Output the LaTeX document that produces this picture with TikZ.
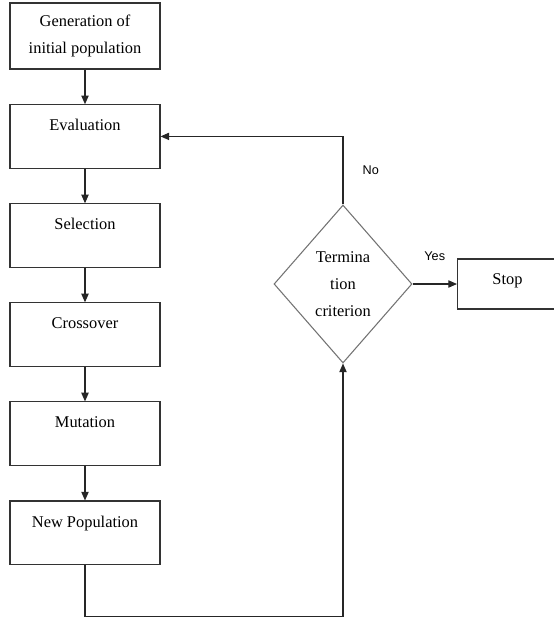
\documentclass[tikz,border=0pt]{standalone}
\usepackage{fontspec}
\setmainfont{Liberation Serif}
\newfontfamily\labelfont{Liberation Sans}
\usetikzlibrary{shapes.geometric, arrows.meta, positioning}

\begin{document}
\begin{tikzpicture}[
  x = 0.75pt, y = -0.75pt,
  node distance = 26pt,
  every node/.style = {font=\fontsize{12.3}{20}\selectfont},
  startbox/.style = {rectangle, draw=black!80, line width=0.8pt,
                     minimum width=112.5pt, minimum height=49.5pt,
                     inner sep=0pt, align=center},
  stepbox/.style  = {rectangle, draw=black!80, line width=0.8pt,
                     minimum width=112.5pt, inner sep=0pt,
                     text height=19.5pt, text depth=28pt},
  stopbox/.style  = {rectangle, draw=black!80, line width=0.8pt,
                     minimum width=75pt, inner sep=0pt,
                     text height=18.75pt, text depth=18.75pt},
  decision/.style = {diamond, draw=black!55, line width=0.8pt,
                     minimum width=103.5pt, minimum height=118.5pt,
                     inner sep=0pt, align=center},
  answer/.style   = {font=\labelfont\fontsize{9.5}{11}\selectfont},
  arrow/.style    = {-{Triangle[length=6.5pt, width=5.5pt]},
                     line width=0.8pt, draw=black!85}
]
\useasboundingbox (0,0) rectangle (554,619);
\clip (0,0) rectangle (554,619);

% --- left column ---
\node[startbox]                 (gen)    at (85,36) {Generation of\\initial population};
\node[stepbox, below=of gen]    (eval)   {Evaluation};
\node[stepbox, below=of eval]   (sel)    {Selection};
\node[stepbox, below=of sel]    (cross)  {Crossover};
\node[stepbox, below=of cross]  (mut)    {Mutation};
\node[stepbox, below=of mut]    (newpop) {New Population};

% --- decision and stop ---
\node[decision]                 (crit)   at (343,284) {Termina\\tion\\criterion};
\node[stopbox, anchor=west]     (stop)   at (457,284) {Stop};

% --- arrows ---
\draw[arrow] (gen)   -- (eval);
\draw[arrow] (eval)  -- (sel);
\draw[arrow] (sel)   -- (cross);
\draw[arrow] (cross) -- (mut);
\draw[arrow] (mut)   -- (newpop);

\draw[arrow] (newpop.south) -- ++(0,52) -| (crit.south);
\draw[arrow] (crit.north) |- node[answer, pos=0.25, right=11pt] {No} (eval.east);
\draw[arrow] (crit.east) -- node[answer, above=14pt] {Yes} (stop.west);

\end{tikzpicture}
\end{document}
